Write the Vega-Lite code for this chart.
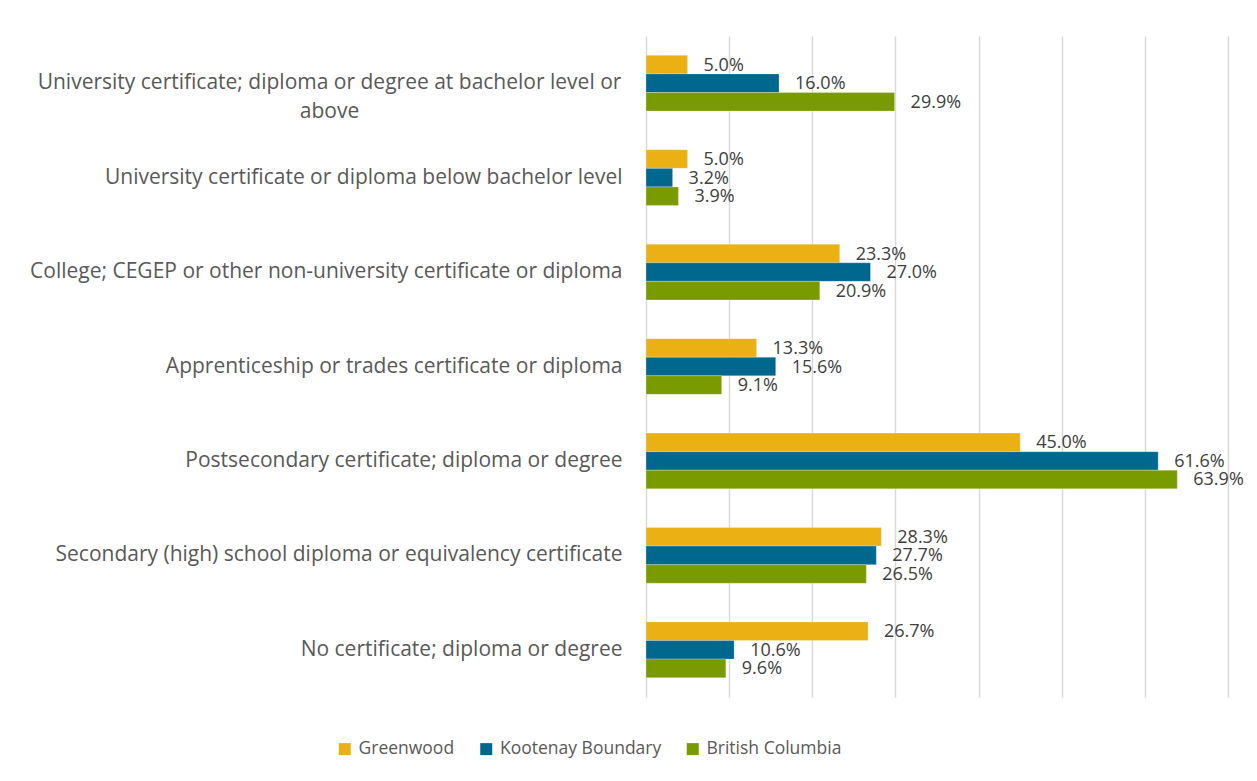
{
  "$schema": "https://vega.github.io/schema/vega-lite/v6.json",
  "width": 582,
  "height": 661,
  "autosize": {"type": "none"},
  "padding": {"left": 646, "top": 36, "right": 29, "bottom": 84},
  "background": "white",
  "config": {"view": {"stroke": null}, "font": "Open Sans"},
  "data": {
    "values": [
      {"category": "University certificate; diploma or degree at bachelor level or above", "series": "Greenwood", "value": 0.05},
      {"category": "University certificate; diploma or degree at bachelor level or above", "series": "Kootenay Boundary", "value": 0.16},
      {"category": "University certificate; diploma or degree at bachelor level or above", "series": "British Columbia", "value": 0.299},
      {"category": "University certificate or diploma below bachelor level", "series": "Greenwood", "value": 0.05},
      {"category": "University certificate or diploma below bachelor level", "series": "Kootenay Boundary", "value": 0.032},
      {"category": "University certificate or diploma below bachelor level", "series": "British Columbia", "value": 0.039},
      {"category": "College; CEGEP or other non-university certificate or diploma", "series": "Greenwood", "value": 0.233},
      {"category": "College; CEGEP or other non-university certificate or diploma", "series": "Kootenay Boundary", "value": 0.27},
      {"category": "College; CEGEP or other non-university certificate or diploma", "series": "British Columbia", "value": 0.209},
      {"category": "Apprenticeship or trades certificate or diploma", "series": "Greenwood", "value": 0.133},
      {"category": "Apprenticeship or trades certificate or diploma", "series": "Kootenay Boundary", "value": 0.156},
      {"category": "Apprenticeship or trades certificate or diploma", "series": "British Columbia", "value": 0.091},
      {"category": "Postsecondary certificate; diploma or degree", "series": "Greenwood", "value": 0.45},
      {"category": "Postsecondary certificate; diploma or degree", "series": "Kootenay Boundary", "value": 0.616},
      {"category": "Postsecondary certificate; diploma or degree", "series": "British Columbia", "value": 0.639},
      {"category": "Secondary (high) school diploma or equivalency certificate", "series": "Greenwood", "value": 0.283},
      {"category": "Secondary (high) school diploma or equivalency certificate", "series": "Kootenay Boundary", "value": 0.277},
      {"category": "Secondary (high) school diploma or equivalency certificate", "series": "British Columbia", "value": 0.265},
      {"category": "No certificate; diploma or degree", "series": "Greenwood", "value": 0.267},
      {"category": "No certificate; diploma or degree", "series": "Kootenay Boundary", "value": 0.106},
      {"category": "No certificate; diploma or degree", "series": "British Columbia", "value": 0.096}
    ]
  },
  "encoding": {
    "y": {
      "field": "category",
      "type": "nominal",
      "sort": [
        "University certificate; diploma or degree at bachelor level or above",
        "University certificate or diploma below bachelor level",
        "College; CEGEP or other non-university certificate or diploma",
        "Apprenticeship or trades certificate or diploma",
        "Postsecondary certificate; diploma or degree",
        "Secondary (high) school diploma or equivalency certificate",
        "No certificate; diploma or degree"
      ],
      "scale": {"paddingInner": 0.41, "paddingOuter": 0.205},
      "axis": {
        "title": null,
        "domain": false,
        "ticks": false,
        "labelFont": "Open Sans",
        "labelFontSize": 21,
        "labelColor": "#595959",
        "labelLimit": 700,
        "labelLineHeight": 29,
        "labelPadding": {"condition": {"test": "indexof(datum.label, 'bachelor level or above') >= 0", "value": 317}, "value": 24},
        "labelAlign": {"condition": {"test": "indexof(datum.label, 'bachelor level or above') >= 0", "value": "center"}, "value": "right"},
        "labelExpr": "indexof(datum.label, 'bachelor level or above') >= 0 ? ['University certificate; diploma or degree at bachelor level or', 'above'] : datum.label"
      }
    },
    "yOffset": {
      "field": "series",
      "type": "nominal",
      "sort": ["Greenwood", "Kootenay Boundary", "British Columbia"]
    },
    "x": {
      "field": "value",
      "type": "quantitative",
      "scale": {"domain": [0, 0.7], "nice": false},
      "axis": {
        "title": null,
        "labels": false,
        "ticks": false,
        "domain": false,
        "values": [0, 0.1, 0.2, 0.3, 0.4, 0.5, 0.6, 0.7],
        "gridColor": "#d9d9d9",
        "gridWidth": 1.5
      }
    }
  },
  "layer": [
    {
      "mark": {"type": "bar", "stroke": "white", "strokeWidth": 0.5, "strokeOpacity": 0.5},
      "encoding": {
        "color": {
          "field": "series",
          "type": "nominal",
          "sort": ["Greenwood", "Kootenay Boundary", "British Columbia"],
          "scale": {
            "domain": ["Greenwood", "Kootenay Boundary", "British Columbia"],
            "range": ["#EBB014", "#00678E", "#7A9B00"]
          },
          "legend": {
            "title": null,
            "orient": "none",
            "direction": "horizontal",
            "legendX": -310,
            "legendY": 704,
            "symbolType": "square",
            "symbolSize": 144,
            "symbolStrokeWidth": 0,
            "labelFont": "Open Sans",
            "labelFontSize": 17.5,
            "labelColor": "#595959",
            "labelOffset": 5,
            "columnPadding": 22.5,
            "labelLimit": 300
          }
        }
      }
    },
    {
      "mark": {"type": "text", "align": "left", "baseline": "middle", "dx": 16, "dy": 1, "font": "Open Sans", "fontSize": 18, "color": "#404040"},
      "encoding": {
        "text": {"field": "value", "type": "quantitative", "format": ".1%"}
      }
    }
  ]
}
